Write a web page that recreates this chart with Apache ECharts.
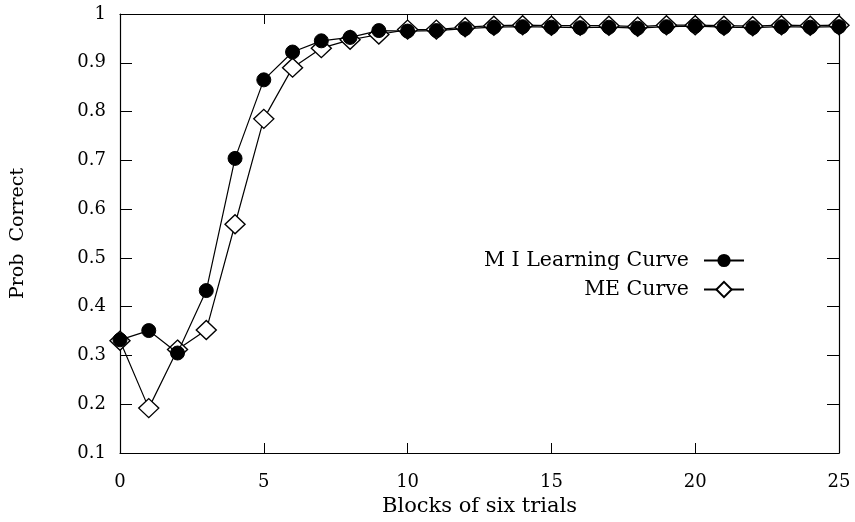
<!DOCTYPE html>
<html>
<head>
<meta charset="utf-8">
<script src="https://cdn.jsdelivr.net/npm/echarts@6/dist/echarts.min.js"></script>
<style>
html,body{margin:0;padding:0;background:#fff;}
#main{width:855px;height:522px;}
</style>
</head>
<body>
<div id="main"></div>
<script>
const blocks = [0,1,2,3,4,5,6,7,8,9,10,11,12,13,14,15,16,17,18,19,20,21,22,23,24,25];
const miCurve = [0.332,0.351,0.305,0.433,0.704,0.865,0.922,0.945,0.952,0.966,0.965,0.966,0.970,0.973,0.974,0.973,0.972,0.973,0.971,0.974,0.975,0.973,0.972,0.974,0.973,0.974];
const meCurve = [0.330,0.192,0.312,0.352,0.569,0.785,0.890,0.930,0.947,0.958,0.968,0.968,0.973,0.976,0.977,0.976,0.976,0.976,0.974,0.977,0.977,0.976,0.975,0.977,0.976,0.977];
const yTicks = [0.1,0.2,0.3,0.4,0.5,0.6,0.7,0.8,0.9,1];
const miName = 'M I Learning Curve';
const meName = 'ME Curve';

const font = 'DejaVu Serif';
const chart = echarts.init(document.getElementById('main'), null, {renderer:'canvas'});
const axisLine = {show:true, onZero:false, lineStyle:{color:'#000', width:1.2}};
chart.setOption({
  animation:false,
  backgroundColor:'#fff',
  textStyle:{fontFamily:font, color:'#000'},
  grid:{left:120, right:16, top:14, bottom:64, containLabel:false},
  legend:[
    {data:[miName], right:110, top:250, padding:0, orient:'vertical', align:'right', itemWidth:40, itemHeight:14,
     textStyle:{fontFamily:font, fontSize:20.5, color:'#000', padding:[0,10,0,0]}},
    {data:[meName], right:110, top:279, padding:0, orient:'vertical', align:'right', itemWidth:40, itemHeight:19,
     textStyle:{fontFamily:font, fontSize:20.5, color:'#000', padding:[0,10,0,0]}}
  ],
  xAxis:[
    {type:'value', min:0, max:25, interval:5, position:'bottom',
     name:'Blocks of six trials', nameLocation:'middle', nameGap:43,
     nameTextStyle:{fontFamily:font, fontSize:21, color:'#000'},
     axisLine:axisLine, axisTick:{show:true, inside:true, length:10, lineStyle:{color:'#000'}},
     axisLabel:{fontFamily:font, fontSize:18, color:'#000', margin:20},
     splitLine:{show:false}},
    {type:'value', min:0, max:25, interval:5, position:'top',
     axisLine:axisLine, axisTick:{show:true, inside:true, length:10, lineStyle:{color:'#000'}},
     axisLabel:{show:false}, splitLine:{show:false}}
  ],
  yAxis:[
    {type:'value', min:0.1, max:1, interval:0.1, position:'left',
     name:'Prob  Correct', nameLocation:'middle', nameGap:92, nameRotate:90,
     nameTextStyle:{fontFamily:font, fontSize:19, color:'#000'},
     axisLine:axisLine, axisTick:{show:true, inside:true, length:12, lineStyle:{color:'#000'}},
     axisLabel:{fontFamily:font, fontSize:18, color:'#000', margin:14,
       formatter:function(v){ const t = yTicks.find(function(k){return Math.abs(k-v)<1e-6;}); return t===1?'1':(t!==undefined?t.toFixed(1):''); }},
     splitLine:{show:false}},
    {type:'value', min:0.1, max:1, interval:0.1, position:'right',
     axisLine:axisLine, axisTick:{show:true, inside:true, length:12, lineStyle:{color:'#000'}},
     axisLabel:{show:false}, splitLine:{show:false}}
  ],
  series:[
    {name:meName, type:'line', xAxisIndex:0, yAxisIndex:0,
     data:blocks.map(function(b,i){return [b, meCurve[i]];}),
     symbol:'diamond', symbolSize:[20,19], showAllSymbol:true,
     lineStyle:{color:'#000', width:1.2},
     itemStyle:{color:'#fff', borderColor:'#000', borderWidth:1.4}, z:2},
    {name:miName, type:'line', xAxisIndex:0, yAxisIndex:0,
     data:blocks.map(function(b,i){return [b, miCurve[i]];}),
     symbol:'circle', symbolSize:14, showAllSymbol:true,
     lineStyle:{color:'#000', width:1.2},
     itemStyle:{color:'#000', borderColor:'#000', borderWidth:1}, z:3}
  ]
});
</script>
</body>
</html>
